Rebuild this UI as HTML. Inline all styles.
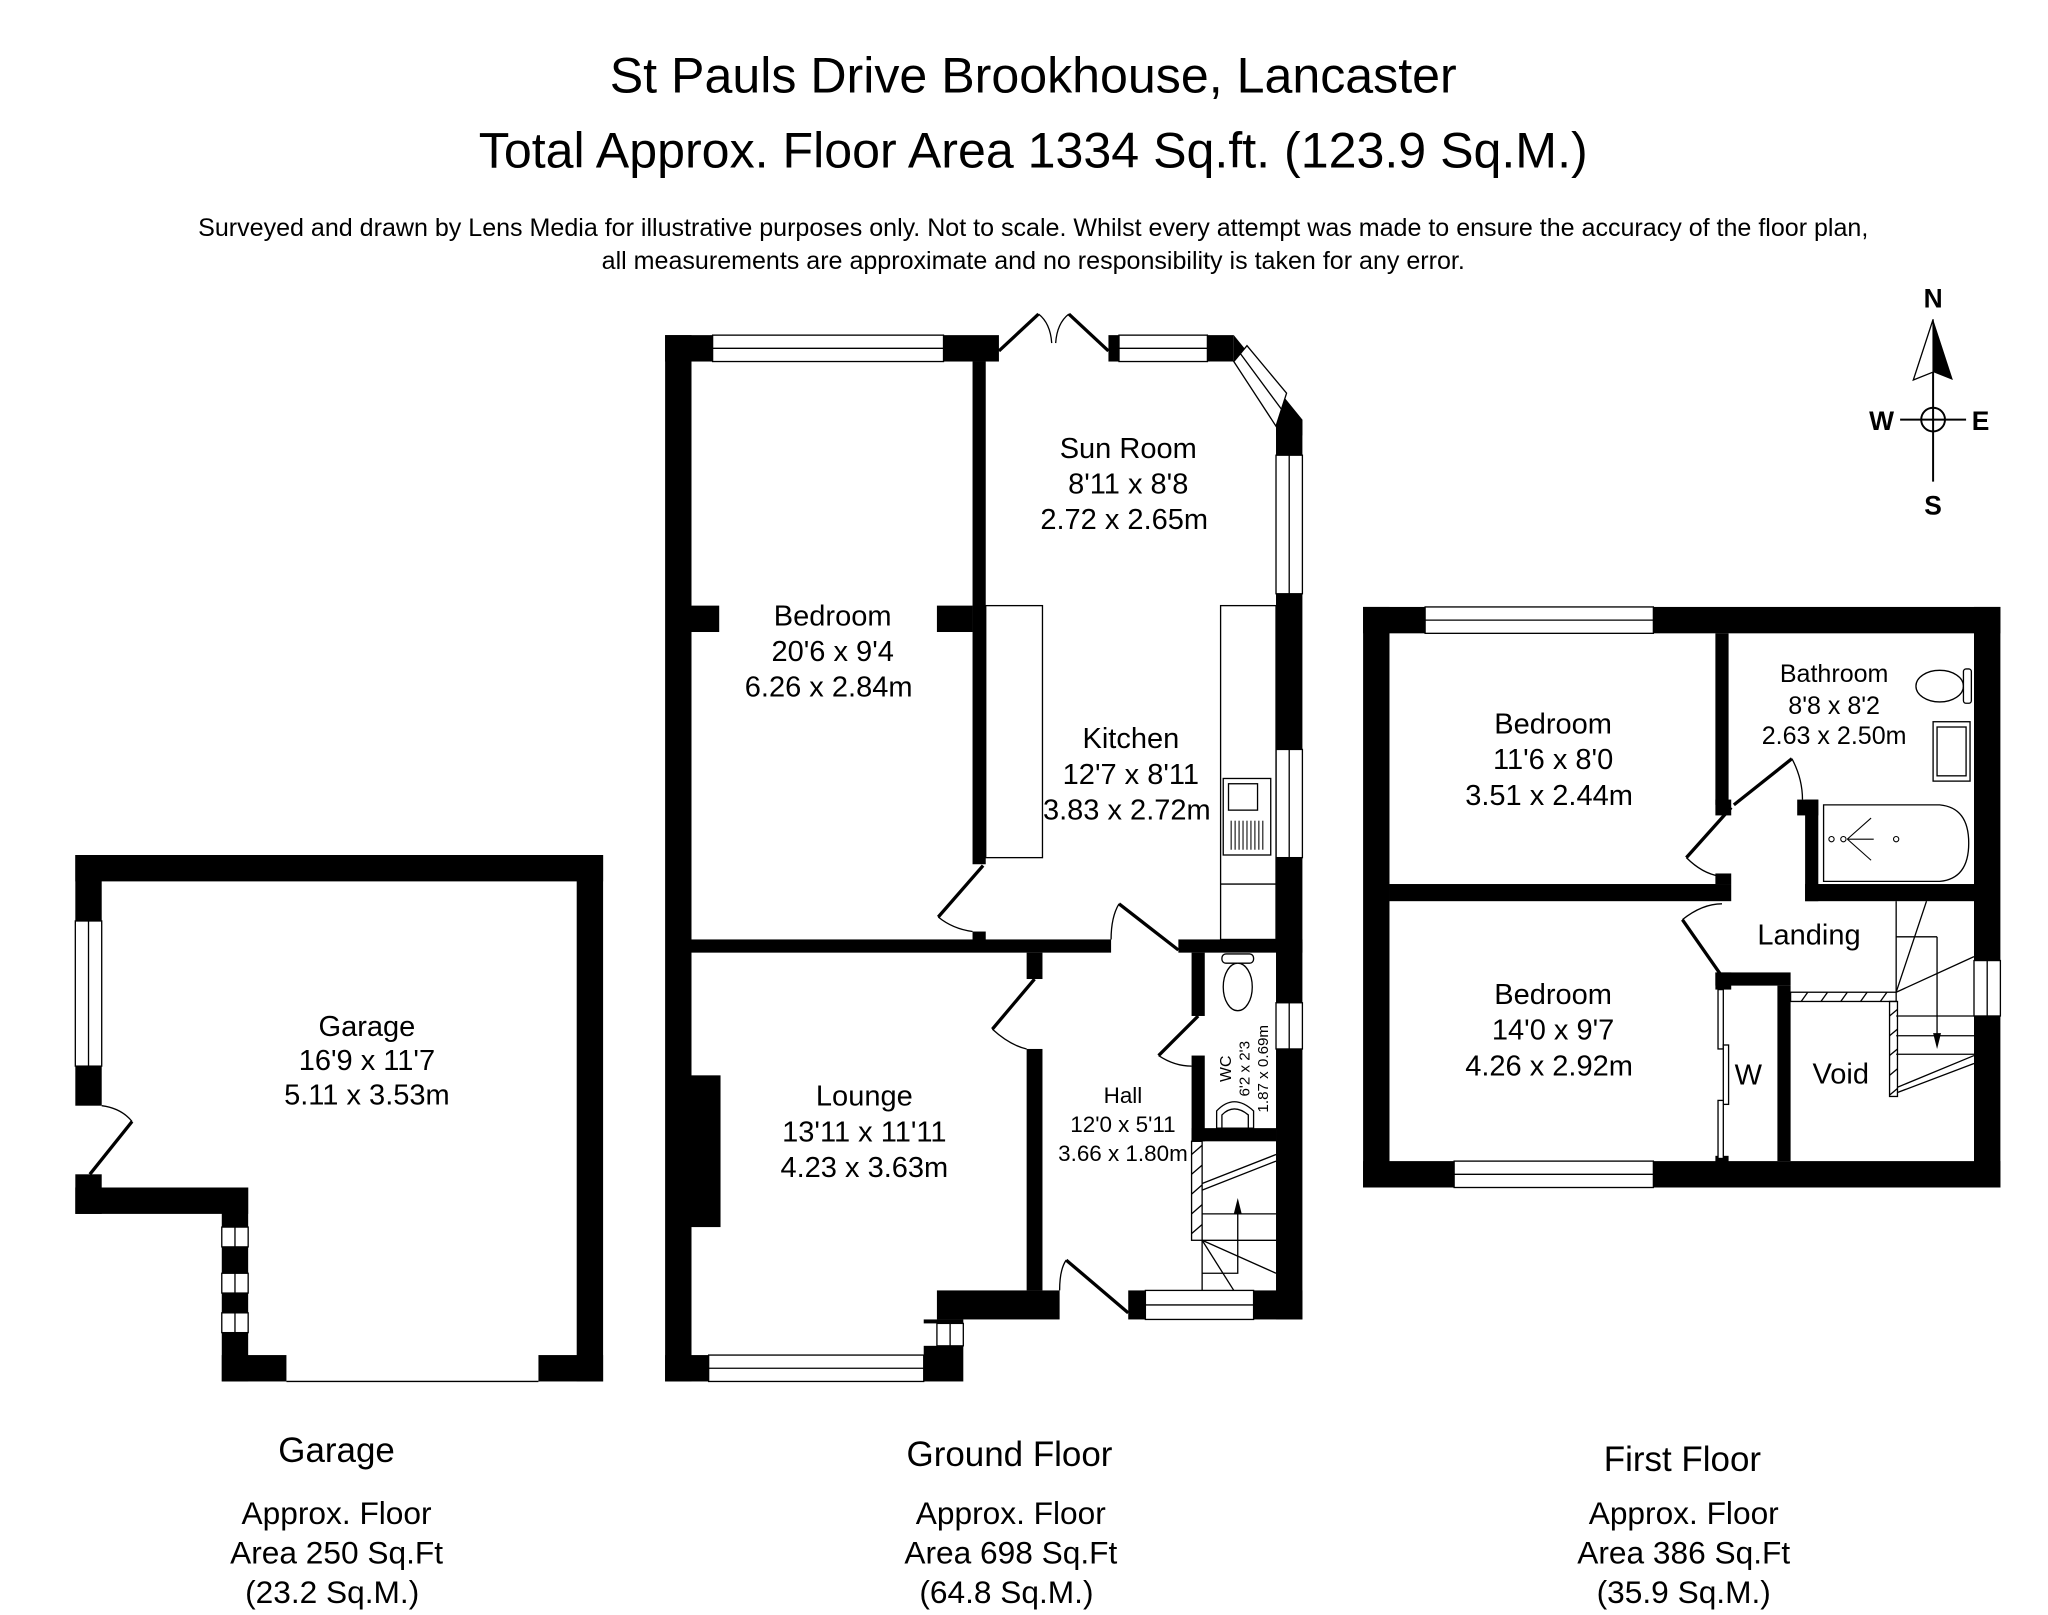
<!DOCTYPE html>
<html><head><meta charset="utf-8"><style>
html,body{margin:0;padding:0;background:#fff;}
svg{display:block;}
text{font-family:"Liberation Sans",Arial,sans-serif;fill:#000;}
</style></head><body>
<svg width="2048" height="1615" viewBox="0 0 1552 1224" xmlns="http://www.w3.org/2000/svg">
<rect width="1552" height="1224" fill="#fff"/>
<!-- Titles -->
<text x="783" y="70" font-size="38" text-anchor="middle">St Pauls Drive Brookhouse, Lancaster</text>
<text x="783" y="127" font-size="38" text-anchor="middle">Total Approx. Floor Area 1334 Sq.ft. (123.9 Sq.M.)</text>
<text x="783" y="179" font-size="19" text-anchor="middle">Surveyed and drawn by Lens Media for illustrative purposes only. Not to scale. Whilst every attempt was made to ensure the accuracy of the floor plan,</text>
<text x="783" y="204" font-size="19" text-anchor="middle">all measurements are approximate and no responsibility is taken for any error.</text>

<!-- Compass -->
<g stroke="#000" stroke-width="1.5" fill="none">
<line x1="1465" y1="245" x2="1465" y2="365"/>
<line x1="1440" y1="318" x2="1490" y2="318"/>
<circle cx="1465" cy="318" r="9"/>
</g>
<polygon points="1465,242 1480,288 1465,282" fill="#000"/>
<polygon points="1465,242 1450,288 1465,282" fill="#fff" stroke="#000" stroke-width="1"/>
<text x="1465" y="233" font-size="20" font-weight="bold" text-anchor="middle">N</text>
<text x="1426" y="326" font-size="20" font-weight="bold" text-anchor="middle">W</text>
<text x="1501" y="326" font-size="20" font-weight="bold" text-anchor="middle">E</text>
<text x="1465" y="390" font-size="20" font-weight="bold" text-anchor="middle">S</text>

<!-- ================= GARAGE ================= -->
<g fill="#000">
<rect x="57" y="648" width="400" height="20"/>
<rect x="437" y="648" width="20" height="399"/>
<rect x="57" y="648" width="20" height="50"/>
<rect x="57" y="808" width="20" height="30"/>
<rect x="57" y="890" width="20" height="30"/>
<rect x="57" y="900" width="131" height="20"/>
<rect x="168" y="900" width="20" height="147"/>
<rect x="168" y="1027" width="49" height="20"/>
<rect x="408" y="1027" width="49" height="20"/>
</g>
<g fill="#fff" stroke="#000" stroke-width="1">
<rect x="57" y="698" width="20" height="110"/>
<line x1="67" y1="698" x2="67" y2="808"/>
<rect x="168" y="930" width="20" height="15"/><line x1="178" y1="930" x2="178" y2="945"/>
<rect x="168" y="965" width="20" height="15"/><line x1="178" y1="965" x2="178" y2="980"/>
<rect x="168" y="995" width="20" height="15"/><line x1="178" y1="995" x2="178" y2="1010"/>
<line x1="217" y1="1047" x2="408" y2="1047"/>
</g>
<line x1="68" y1="890" x2="100" y2="850" stroke="#000" stroke-width="2.5"/>
<path d="M77 838 Q92 840 100 850" fill="none" stroke="#000" stroke-width="1"/>
<text font-size="22" text-anchor="middle"><tspan x="278" y="785">Garage</tspan><tspan x="278" y="811">16'9 x 11'7</tspan><tspan x="278" y="837">5.11 x 3.53m</tspan></text>

<!-- ================= GROUND FLOOR ================= -->
<g fill="#000">
<rect x="504" y="254" width="20" height="793"/>
<rect x="504" y="254" width="36" height="20"/>
<rect x="715" y="254" width="42" height="20"/>
<rect x="737" y="274" width="10" height="381"/>
<rect x="524" y="459" width="21" height="20"/>
<rect x="710" y="459" width="27" height="20"/>
<rect x="840" y="254" width="8" height="20"/>
<polygon points="915,254 935,254 935,274 915,274"/>
<polygon points="935,254 987,318 987,330 967,330 967,323 935,274"/>
<rect x="967" y="318" width="20" height="27"/>
<rect x="967" y="450" width="20" height="118"/>
<rect x="967" y="650" width="20" height="110"/>
<rect x="967" y="795" width="20" height="205"/>
<rect x="737" y="706" width="10" height="10"/>
<rect x="524" y="712" width="318" height="10"/>
<rect x="893" y="712" width="94" height="10"/>
<rect x="903" y="722" width="10" height="48"/>
<rect x="903" y="800" width="10" height="65"/>
<rect x="903" y="855" width="64" height="10"/>
<rect x="778" y="722" width="12" height="20"/>
<rect x="778" y="795" width="12" height="183"/>
<rect x="710" y="978" width="93" height="22"/>
<rect x="855" y="978" width="13" height="22"/>
<rect x="950" y="978" width="37" height="22"/>
<rect x="700" y="1000" width="30" height="3"/>
<rect x="700" y="1020" width="30" height="27"/>
<rect x="504" y="1027" width="33" height="20"/>
<rect x="524" y="815" width="22" height="115"/>
</g>
<g fill="#fff" stroke="#000" stroke-width="1">
<rect x="540" y="254" width="175" height="20"/><line x1="540" y1="264" x2="715" y2="264"/>
<rect x="848" y="254" width="67" height="20"/><line x1="848" y1="264" x2="915" y2="264"/>
<polygon points="935,274 945,262 975,298 967,323"/>
<line x1="940" y1="268" x2="971" y2="310"/>
<rect x="967" y="345" width="20" height="105"/><line x1="977" y1="345" x2="977" y2="450"/>
<rect x="967" y="568" width="20" height="82"/><line x1="977" y1="568" x2="977" y2="650"/>
<rect x="967" y="760" width="20" height="35"/><line x1="977" y1="760" x2="977" y2="795"/>
<rect x="868" y="978" width="82" height="22"/><line x1="868" y1="989" x2="950" y2="989"/>
<rect x="537" y="1027" width="163" height="20"/><line x1="537" y1="1037" x2="700" y2="1037"/>
<rect x="710" y="1003" width="20" height="17"/><line x1="720" y1="1003" x2="720" y2="1020"/>
<rect x="747" y="459" width="43" height="191"/>
<rect x="925" y="459" width="42" height="253"/>
<line x1="925" y1="670" x2="967" y2="670"/>
<rect x="927" y="590" width="36" height="58"/>
<rect x="931" y="594" width="22" height="20"/>
</g>
<g stroke="#000" stroke-width="0.8">
<line x1="933" y1="622" x2="933" y2="644"/><line x1="936" y1="622" x2="936" y2="644"/><line x1="939" y1="622" x2="939" y2="644"/><line x1="942" y1="622" x2="942" y2="644"/><line x1="945" y1="622" x2="945" y2="644"/><line x1="948" y1="622" x2="948" y2="644"/><line x1="951" y1="622" x2="951" y2="644"/><line x1="954" y1="622" x2="954" y2="644"/><line x1="957" y1="622" x2="957" y2="644"/>
</g>
<g stroke="#000" stroke-width="2.5" fill="none">
<line x1="757" y1="266" x2="787" y2="238"/>
<line x1="840" y1="266" x2="810" y2="238"/>
<line x1="745" y1="656" x2="711" y2="695"/>
<line x1="848" y1="685" x2="893" y2="720"/>
<line x1="784" y1="742" x2="752" y2="780"/>
<line x1="908" y1="770" x2="878" y2="800"/>
<line x1="808" y1="955" x2="855" y2="995"/>
</g>
<g stroke="#000" stroke-width="1" fill="none">
<path d="M787 238 Q796 245 797 260"/>
<path d="M810 238 Q801 245 800 260"/>
<path d="M711 695 Q722 704 737 706"/>
<path d="M842 712 Q842 695 848 685"/>
<path d="M752 780 Q765 792 778 795"/>
<path d="M878 800 Q890 808 903 808"/>
<path d="M803 978 Q803 962 808 955"/>
</g>
<g stroke="#000" stroke-width="1" fill="#fff">
<rect x="926" y="723" width="24" height="7" rx="3"/>
<ellipse cx="938" cy="748" rx="11" ry="18"/>
<path d="M922 855 L922 842 Q935 828 950 842 L950 855 Z"/>
<path d="M926 855 L926 845 Q935 836 946 845 L946 855 Z"/>
</g>
<text transform="translate(933,810) rotate(-90)" font-size="12" text-anchor="middle">WC</text>
<text transform="translate(947,810) rotate(-90)" font-size="11.5" text-anchor="middle">6'2 x 2'3</text>
<text transform="translate(961,810) rotate(-90)" font-size="11.5" text-anchor="middle">1.87 x 0.69m</text>
<g stroke="#000" stroke-width="1" fill="none">
<rect x="903" y="865" width="8" height="75"/>
<line x1="903" y1="875" x2="911" y2="868"/><line x1="903" y1="890" x2="911" y2="883"/><line x1="903" y1="905" x2="911" y2="898"/><line x1="903" y1="920" x2="911" y2="913"/><line x1="903" y1="935" x2="911" y2="928"/>
<line x1="911" y1="940" x2="911" y2="978"/>
<line x1="911" y1="897" x2="967" y2="875"/>
<line x1="911" y1="902" x2="967" y2="880"/>
<line x1="911" y1="920" x2="967" y2="920"/>
<line x1="911" y1="940" x2="967" y2="940"/>
<line x1="911" y1="940" x2="967" y2="965"/>
<line x1="911" y1="940" x2="935" y2="978"/>
<polyline points="911,965 938,965 938,912"/>
</g>
<polygon points="938,908 935,920 941,920" fill="#000"/>
<text font-size="22" text-anchor="middle">
<tspan x="855" y="347">Sun Room</tspan><tspan x="855" y="374">8'11 x 8'8</tspan><tspan x="855" y="401">2.72 x 2.65m</tspan>
<tspan x="631" y="474">Bedroom</tspan><tspan x="631" y="501">20'6 x 9'4</tspan><tspan x="631" y="528">6.26 x 2.84m</tspan>
<tspan x="857" y="567">Kitchen</tspan><tspan x="857" y="594">12'7 x 8'11</tspan><tspan x="857" y="621">3.83 x 2.72m</tspan>
<tspan x="655" y="838">Lounge</tspan><tspan x="655" y="865">13'11 x 11'11</tspan><tspan x="655" y="892">4.23 x 3.63m</tspan>
</text>
<text font-size="17" text-anchor="middle"><tspan x="851" y="836">Hall</tspan><tspan x="851" y="858">12'0 x 5'11</tspan><tspan x="851" y="880">3.66 x 1.80m</tspan></text>

<!-- ================= FIRST FLOOR ================= -->
<g fill="#000">
<rect x="1033" y="460" width="483" height="20"/>
<rect x="1033" y="880" width="483" height="20"/>
<rect x="1033" y="460" width="20" height="440"/>
<rect x="1496" y="460" width="20" height="268"/>
<rect x="1496" y="770" width="20" height="130"/>
<rect x="1300" y="480" width="10" height="130"/>
<rect x="1300" y="606" width="12" height="12"/>
<rect x="1053" y="670" width="259" height="13"/>
<rect x="1300" y="662" width="12" height="8"/>
<rect x="1362" y="606" width="16" height="12"/>
<rect x="1368" y="606" width="10" height="77"/>
<rect x="1368" y="670" width="128" height="13"/>
<rect x="1300" y="737" width="12" height="13"/>
<rect x="1300" y="737" width="57" height="10"/>
<rect x="1347" y="747" width="10" height="133"/>
<rect x="1300" y="876" width="10" height="6"/>
</g>
<g fill="#fff" stroke="#000" stroke-width="1">
<rect x="1080" y="460" width="173" height="20"/><line x1="1080" y1="470" x2="1253" y2="470"/>
<rect x="1102" y="880" width="151" height="20"/><line x1="1102" y1="890" x2="1253" y2="890"/>
<rect x="1496" y="728" width="20" height="42"/><line x1="1506" y1="728" x2="1506" y2="770"/>
<rect x="1302" y="750" width="4" height="45"/>
<rect x="1306" y="792" width="4" height="45"/>
<rect x="1302" y="834" width="4" height="44"/>
<path d="M1382 610 L1470 610 Q1492 612 1492 639 Q1492 666 1470 668 L1382 668 Z"/>
<ellipse cx="1470" cy="520" rx="18" ry="12"/>
<rect x="1488" y="507" width="6" height="26" rx="2"/>
<rect x="1465" y="547" width="28" height="45"/>
<rect x="1468" y="551" width="22" height="37"/>
</g>
<g stroke="#000" stroke-width="0.8" fill="none">
<line x1="1400" y1="636" x2="1418" y2="620"/><line x1="1400" y1="636" x2="1420" y2="636"/><line x1="1400" y1="636" x2="1418" y2="652"/>
<circle cx="1397" cy="636" r="2"/><circle cx="1437" cy="636" r="2"/><circle cx="1388" cy="636" r="2"/>
</g>
<g stroke="#000" stroke-width="2.5" fill="none">
<line x1="1312" y1="612" x2="1278" y2="650"/>
<line x1="1314" y1="610" x2="1358" y2="575"/>
<line x1="1275" y1="697" x2="1305" y2="740"/>
</g>
<g stroke="#000" stroke-width="1" fill="none">
<path d="M1278 650 Q1290 662 1303 664"/>
<path d="M1358 575 Q1366 590 1366 606"/>
<path d="M1275 697 Q1290 685 1305 685"/>
</g>
<g stroke="#000" stroke-width="1" fill="none">
<rect x="1357" y="752" width="80" height="7"/>
<line x1="1365" y1="759" x2="1370" y2="752"/><line x1="1380" y1="759" x2="1385" y2="752"/><line x1="1395" y1="759" x2="1400" y2="752"/><line x1="1410" y1="759" x2="1415" y2="752"/><line x1="1425" y1="759" x2="1430" y2="752"/>
<rect x="1432" y="759" width="6" height="72"/>
<line x1="1432" y1="770" x2="1438" y2="765"/><line x1="1432" y1="785" x2="1438" y2="780"/><line x1="1432" y1="800" x2="1438" y2="795"/><line x1="1432" y1="815" x2="1438" y2="810"/><line x1="1432" y1="830" x2="1438" y2="825"/>
<line x1="1437" y1="683" x2="1437" y2="752"/>
<line x1="1437" y1="752" x2="1460" y2="683"/>
<line x1="1437" y1="752" x2="1496" y2="725"/>
<line x1="1437" y1="710" x2="1468" y2="710"/>
<line x1="1437" y1="770" x2="1496" y2="770"/>
<line x1="1437" y1="785" x2="1496" y2="785"/>
<line x1="1437" y1="799" x2="1496" y2="799"/>
<line x1="1438" y1="824" x2="1496" y2="800"/>
<line x1="1438" y1="828" x2="1496" y2="806"/>
<line x1="1468" y1="710" x2="1468" y2="785"/>
</g>
<polygon points="1468,795 1465,783 1471,783" fill="#000"/>
<text font-size="22" text-anchor="middle">
<tspan x="1177" y="556">Bedroom</tspan><tspan x="1177" y="583">11'6 x 8'0</tspan><tspan x="1177" y="610">3.51 x 2.44m</tspan>
<tspan x="1177" y="761">Bedroom</tspan><tspan x="1177" y="788">14'0 x 9'7</tspan><tspan x="1177" y="815">4.26 x 2.92m</tspan>
<tspan x="1374" y="716">Landing</tspan>
<tspan x="1328" y="822">W</tspan>
<tspan x="1395" y="821">Void</tspan>
</text>
<text font-size="19" text-anchor="middle"><tspan x="1390" y="517">Bathroom</tspan><tspan x="1390" y="541">8'8 x 8'2</tspan><tspan x="1390" y="564">2.63 x 2.50m</tspan></text>

<!-- Floor captions -->
<text font-size="26.5" text-anchor="middle"><tspan x="255" y="1108">Garage</tspan><tspan x="765" y="1111">Ground Floor</tspan><tspan x="1275" y="1115">First Floor</tspan></text>
<text font-size="24" text-anchor="middle">
<tspan x="255" y="1155">Approx. Floor</tspan><tspan x="255" y="1185">Area 250 Sq.Ft</tspan><tspan x="255" y="1215">(23.2 Sq.M.)</tspan>
<tspan x="766" y="1155">Approx. Floor</tspan><tspan x="766" y="1185">Area 698 Sq.Ft</tspan><tspan x="766" y="1215">(64.8 Sq.M.)</tspan>
<tspan x="1276" y="1155">Approx. Floor</tspan><tspan x="1276" y="1185">Area 386 Sq.Ft</tspan><tspan x="1276" y="1215">(35.9 Sq.M.)</tspan>
</text>
</svg>
</body></html>
